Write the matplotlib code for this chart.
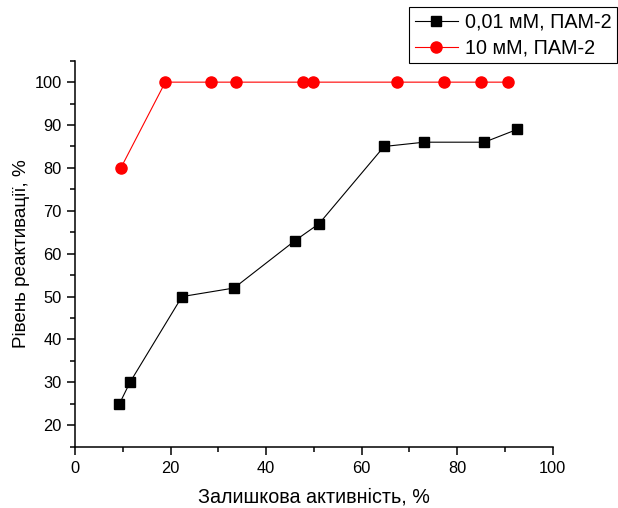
import matplotlib
matplotlib.use("Agg")
import matplotlib.pyplot as plt
from matplotlib.ticker import MultipleLocator

plt.rcParams['font.family'] = ['Liberation Sans', 'DejaVu Sans']

# 0,01 mM, PAM-2
x_low = [9.3, 11.5, 22.4, 33.3, 46.0, 51.1, 64.7, 73.1, 85.7, 92.6]
y_low = [25, 30, 50, 52, 63, 67, 85, 86, 86, 89]

# 10 mM, PAM-2
x_high = [9.6, 18.9, 28.5, 33.8, 47.8, 49.9, 67.5, 77.3, 85.0, 90.6]
y_high = [80, 100, 100, 100, 100, 100, 100, 100, 100, 100]

labels = ["0,01 мМ, ПАМ-2", "10 мМ, ПАМ-2"]

fig = plt.figure(figsize=(6.18, 5.08), dpi=100)
ax = fig.add_axes([0.1214, 0.1207, 0.7729, 0.7598])

ax.plot(x_low, y_low, color="black", lw=0.8, marker="s", ms=7,
        mfc="black", mec="black", label=labels[0])
ax.plot(x_high, y_high, color="red", lw=0.8, marker="o", ms=8,
        mfc="red", mec="red", label=labels[1])

ax.set_xlim(0, 100)
ax.set_ylim(15, 105)
ax.xaxis.set_major_locator(MultipleLocator(20))
ax.xaxis.set_minor_locator(MultipleLocator(10))
ax.yaxis.set_major_locator(MultipleLocator(10))
ax.yaxis.set_minor_locator(MultipleLocator(5))
ax.set_yticks(range(20, 101, 10))

for s in ("top", "right"):
    ax.spines[s].set_visible(False)
for s in ("left", "bottom"):
    ax.spines[s].set_linewidth(1.1)

ax.tick_params(which="major", direction="out", length=6, width=1.1, labelsize=11.8)
ax.tick_params(axis="x", which="major", pad=4.5)
ax.tick_params(which="minor", direction="out", length=3.5, width=1.1)

ax.set_xlabel("Залишкова активність, %", fontsize=14.2, labelpad=8)
ax.set_ylabel("Рівень реактивації, %", fontsize=13.6, labelpad=3)

leg = fig.legend(loc="upper right", bbox_to_anchor=(0.999, 0.987), fontsize=14.2,
                 frameon=True, fancybox=False, edgecolor="black", framealpha=1,
                 handlelength=2.2, borderpad=0.3, labelspacing=0.35,
                 handletextpad=0.35, borderaxespad=0)
leg.get_frame().set_linewidth(0.8)

fig.savefig("out.png", dpi=100)
